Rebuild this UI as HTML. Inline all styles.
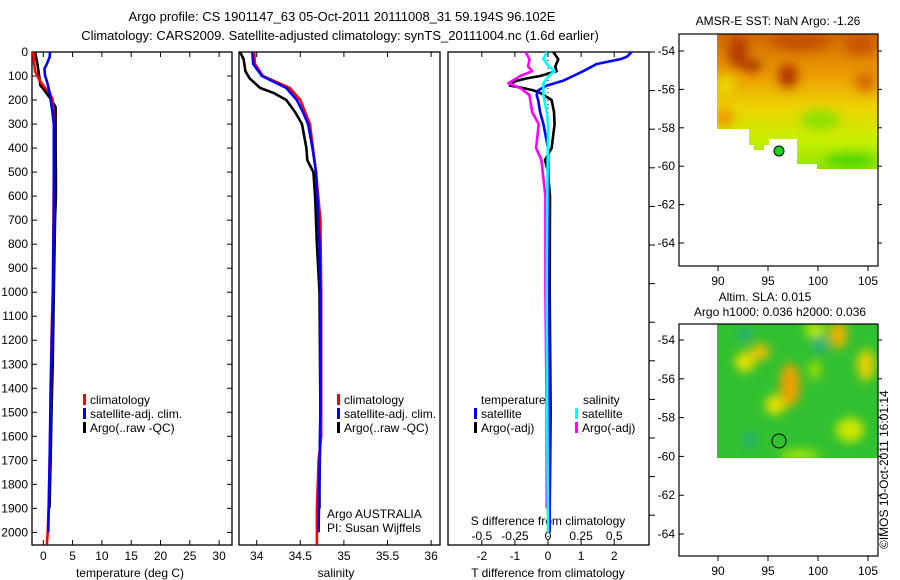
<!DOCTYPE html>
<html><head><meta charset="utf-8"><style>
body{margin:0;background:#fff;}
svg{display:block;font-family:"Liberation Sans",sans-serif;}
</style></head><body>
<svg id="fig" width="900" height="580" viewBox="0 0 900 580" xmlns="http://www.w3.org/2000/svg">
<defs>
<filter id="bl" x="-50%" y="-50%" width="200%" height="200%"><feGaussianBlur stdDeviation="5"/></filter>
<clipPath id="c1"><polygon points="717,34 878,34 878,169 817,169 817,164 797,164 797,139 769,139 769,145 764,145 764,150 754,150 754,145 749,145 749,129 717,129"/></clipPath>
<clipPath id="c2"><rect x="717" y="324" width="161" height="134"/></clipPath>
<linearGradient id="sstg" x1="0" y1="34" x2="0" y2="169" gradientUnits="userSpaceOnUse">
<stop offset="0" stop-color="#d06800"/><stop offset="0.3" stop-color="#ec9c00"/><stop offset="0.55" stop-color="#ecd400"/><stop offset="0.78" stop-color="#c8f000"/><stop offset="1" stop-color="#90e400"/></linearGradient>
</defs>
<g font-size="13" text-anchor="middle">
<text x="342" y="21">Argo profile: CS 1901147_63 05-Oct-2011 20111008_31 59.194S 96.102E</text>
<text x="340" y="40">Climatology: CARS2009. Satellite-adjusted climatology: synTS_20111004.nc (1.6d earlier)</text>
</g>
<g id="axes"></g>
<g id="series"></g>
<g>
<text x="778" y="25" font-size="12" text-anchor="middle">AMSR-E SST: NaN Argo: -1.26</text>
<g clip-path="url(#c1)">
<rect x="717" y="34" width="161" height="135" fill="url(#sstg)"/>
<g filter="url(#bl)" opacity="0.85">
<ellipse cx="738" cy="52" rx="10" ry="16" fill="#b03000"/>
<ellipse cx="752" cy="66" rx="10" ry="6" fill="#a02800"/>
<ellipse cx="788" cy="76" rx="10" ry="12" fill="#a82800"/>
<ellipse cx="800" cy="42" rx="30" ry="8" fill="#c04800"/>
<ellipse cx="860" cy="45" rx="15" ry="10" fill="#c85000"/>
<ellipse cx="865" cy="82" rx="10" ry="10" fill="#d06000"/>
<ellipse cx="725" cy="85" rx="10" ry="10" fill="#e8e000"/>
<ellipse cx="724" cy="118" rx="10" ry="10" fill="#f09000"/>
<ellipse cx="820" cy="120" rx="20" ry="10" fill="#80e000"/>
<ellipse cx="850" cy="160" rx="25" ry="6" fill="#30d000"/>
</g></g>
<circle cx="779" cy="151" r="5" fill="#20d020" stroke="#000" stroke-width="1"/>
</g>
<g>
<text x="765" y="301" font-size="12" text-anchor="middle">Altim. SLA: 0.015</text>
<g clip-path="url(#c2)">
<rect x="717" y="324" width="161" height="134" fill="#30c030"/>
<g filter="url(#bl)">
<ellipse cx="745" cy="362" rx="10" ry="10" fill="#e8e000"/>
<ellipse cx="760" cy="352" rx="10" ry="8" fill="#f0c000"/>
<ellipse cx="790" cy="385" rx="10" ry="22" fill="#f0a000"/>
<ellipse cx="775" cy="405" rx="10" ry="10" fill="#e8e000"/>
<ellipse cx="838" cy="335" rx="9" ry="14" fill="#f0b000"/>
<ellipse cx="866" cy="365" rx="9" ry="16" fill="#e8d000"/>
<ellipse cx="850" cy="430" rx="14" ry="12" fill="#d0e800"/>
<ellipse cx="815" cy="330" rx="10" ry="8" fill="#c0e800"/>
<ellipse cx="815" cy="370" rx="6" ry="10" fill="#a0e000"/>
<ellipse cx="745" cy="335" rx="6" ry="6" fill="#20a890"/>
<ellipse cx="750" cy="440" rx="5" ry="8" fill="#20a890"/>
<ellipse cx="820" cy="345" rx="6" ry="8" fill="#20a890"/>
<ellipse cx="800" cy="455" rx="20" ry="5" fill="#b0e800"/>
</g></g>
<circle cx="779" cy="441" r="7" fill="none" stroke="#000" stroke-width="1"/>
</g>
<text transform="translate(888,549) rotate(-90)" font-size="12">©IMOS 10-Oct-2011 16:01:14</text>
</svg>
<script>
// ---- data ----
var depthTicks=[0,100,200,300,400,500,600,700,800,900,1000,1100,1200,1300,1400,1500,1600,1700,1800,1900,2000];
var tempTicks=[0,5,10,15,20,25,30];
var salTicks=[34,34.5,35,35.5,36];
var salTickLabels=["34","34.5","35","35.5","36"];
var tdTicks=[-2,-1,0,1,2];
var sdTicks=[-0.5,-0.25,0,0.25,0.5];
var sdTickLabels=["-0.5","-0.25","0","0.25","0.5"];
var latTicks=[-54,-56,-58,-60,-62,-64];
var lonTicks=[90,95,100,105];

var tClimDepth=[0,40,80,110,130,150,170,200,300,500,800,1000,1200,1500,1700,1900,2000,2050];
var tClim=[-1.7,-1.6,-1.4,-0.8,-0.3,0.3,1.1,1.6,1.8,1.8,1.7,1.6,1.4,1.25,1.1,0.9,0.75,0.6];
var tSatDepth=[0,20,50,70,100,120,150,180,250,300,500,700,800,1000,1100,1400,1600,1800,2000];
var tSat=[1.15,1.1,0.6,0.2,0.3,0.6,0.9,1.15,1.55,1.8,1.8,1.8,1.7,1.7,1.55,1.25,1.15,1.0,0.85];
var tArgoDepth=[0,50,100,140,150,180,200,230,300,400,500,600,700,1000,1300,1500,1700,1900];
var tArgo=[-1.4,-1.0,-0.7,-0.5,-0.1,0.8,1.4,2.1,2.1,2.1,2.15,2.15,2.0,1.8,1.6,1.4,1.25,1.05];

var sClimDepth=[0,50,100,150,200,300,500,700,1000,1600,1700,1900,2050];
var sClim=[33.97,33.98,34.07,34.38,34.5,34.61,34.68,34.73,34.74,34.74,34.71,34.69,34.69];
var sSatDepth=[0,50,100,150,200,250,300,400,500,600,800,1000,1500,2000];
var sSat=[33.95,33.96,34.06,34.34,34.46,34.53,34.59,34.64,34.68,34.695,34.72,34.73,34.73,34.71];
var sArgoDepth=[0,30,80,110,150,170,200,250,300,400,450,500,600,800,1000,1500,1800,1900];
var sArgo=[33.81,33.85,33.87,33.92,34.04,34.19,34.34,34.44,34.52,34.57,34.58,34.65,34.67,34.69,34.72,34.73,34.72,34.72];

var tdSatDepth=[0,20,30,50,80,100,120,140,160,180,200,250,300,400,600,1000,1500,2000];
var tdSat=[2.53,2.38,2.18,1.47,1.06,0.76,0.45,-0.04,-0.3,-0.34,-0.3,-0.24,-0.14,0,0.02,0.03,0.05,0.05];
var tdArgoDepth=[0,30,60,80,100,110,120,130,140,150,160,170,200,250,300,400,450,500,600,1000,1500,1900];
var tdArgo=[0.16,0.31,0.22,0.26,-0.24,-0.64,-0.95,-1.1,-1.15,-0.75,-0.44,-0.24,0.11,0.18,0.2,0.11,-0.09,0,0.06,0.05,0.08,0.05];
var sdSatDepth=[0,30,60,80,100,130,180,250,300,600,1000,1500,2000];
var sdSat=[-0.01,-0.035,0.005,0.05,0.005,-0.035,-0.035,-0.01,0,-0.005,-0.01,-0.005,0];
var sdArgoDepth=[0,30,60,80,100,120,130,150,180,250,300,400,450,500,600,1000,1500,1900];
var sdArgo=[-0.17,-0.14,-0.15,-0.12,-0.21,-0.27,-0.3,-0.21,-0.14,-0.12,-0.07,-0.09,-0.05,-0.04,-0.02,-0.02,-0.01,-0.01];

// ---- scales ----
var NS="http://www.w3.org/2000/svg";
var TOP=52, BOT=545;
function yD(d){return TOP+d*0.2402;}
function xT(t){return 43.3+t*5.86;}
function xS(s){return 256.7+(s-34)*87.2;}
function xTd(v){return 548+v*33.1;}
function xSd(v){return 548+v*132.4;}
function yLat1(l){return 51+(-54-l)*19.2;}
function yLat2(l){return 340+(-54-l)*19.4;}
function xLon(l){return 718+(l-90)*10;}
var axes=document.getElementById('axes'), ser=document.getElementById('series');
function mk(tag,attrs,parent){var e=document.createElementNS(NS,tag);for(var k in attrs)e.setAttribute(k,attrs[k]);parent.appendChild(e);return e;}
function txt(x,y,s,anchor,parent,size){var t=mk('text',{x:x,y:y,'text-anchor':anchor||'middle','font-size':size||12},parent);t.textContent=s;return t;}

var panels=[[32,232,'temperature-panel'],[239,440,'salinity-panel'],[448,649,'difference-panel']];
panels.forEach(function(p){
  var r=mk('rect',{x:p[0],y:TOP,width:p[1]-p[0],height:BOT-TOP,fill:'none',stroke:'#000','stroke-width':1.3},axes);
  
  
});
depthTicks.forEach(function(d){
  var y=yD(d);
  mk('line',{x1:32,x2:37,y1:y,y2:y,stroke:'#000'},axes);
  mk('line',{x1:227,x2:232,y1:y,y2:y,stroke:'#000'},axes);
  var t=txt(28,y+4,String(d),'end',axes);
  
  
});
for(var y=52;y<545;y+=38.6){mk('line',{x1:649,x2:655,y1:y,y2:y,stroke:'#000'},axes);}
tempTicks.forEach(function(v){
  var x=xT(v);
  mk('line',{x1:x,x2:x,y1:BOT,y2:BOT-5,stroke:'#000'},axes);
  mk('line',{x1:x,x2:x,y1:TOP,y2:TOP+5,stroke:'#000'},axes);
  var t=txt(x,560,String(v),'middle',axes);
  
  
});
salTicks.forEach(function(v,i){
  var x=xS(v);
  mk('line',{x1:x,x2:x,y1:BOT,y2:BOT-5,stroke:'#000'},axes);
  mk('line',{x1:x,x2:x,y1:TOP,y2:TOP+5,stroke:'#000'},axes);
  var t=txt(x,560,salTickLabels[i],'middle',axes);
  
  
});
tdTicks.forEach(function(v){
  var x=xTd(v);
  mk('line',{x1:x,x2:x,y1:BOT,y2:BOT-5,stroke:'#000'},axes);
  mk('line',{x1:x,x2:x,y1:TOP,y2:TOP+5,stroke:'#000'},axes);
  var t=txt(x,560,String(v),'middle',axes);
  
  
});
sdTicks.forEach(function(v,i){
  var t=txt(xSd(v),540,sdTickLabels[i],'middle',axes);
  
  
});
var at;
at=txt(130,577,'temperature (deg C)','middle',axes);


at=txt(336,577,'salinity','middle',axes);


at=txt(548,577,'T difference from climatology','middle',axes);


at=txt(548,525,'S difference from climatology','middle',axes);


at=txt(327,518,'Argo AUSTRALIA','start',axes);


at=txt(327,532,'PI: Susan Wijffels','start',axes);


mk('line',{x1:548,x2:548,y1:TOP,y2:BOT,stroke:'#000','stroke-dasharray':'1,3','stroke-width':1},axes);

function legend(x,y,color,label,name){
  var g=mk('g',{},axes);
  
  
  mk('rect',{x:x,y:y-10,width:3,height:11,fill:color},g);
  txt(x+7,y,label,'start',g);
}
var leg1=[['red','climatology'],['blue','satellite-adj. clim.'],['black','Argo(..raw -QC)']];
leg1.forEach(function(l,i){legend(83,404+i*14,l[0],l[1],'legend-entry');legend(337,404+i*14,l[0],l[1],'legend-entry');});
txt(481,404,'temperature','start',axes);
txt(583,404,'salinity','start',axes);
legend(474,418,'blue','satellite','legend-entry');
legend(474,432,'black','Argo(-adj)','legend-entry');
legend(575,418,'cyan','satellite','legend-entry');
legend(575,432,'magenta','Argo(-adj)','legend-entry');

function line(xs,ds,fx,color,name){
  var pts=xs.map(function(v,i){return fx(v).toFixed(1)+','+yD(ds[i]).toFixed(1);}).join(' ');
  var p=mk('polyline',{points:pts,fill:'none',stroke:color,'stroke-width':2.6,'stroke-linejoin':'round'},ser);
  
  
}
line(tArgo,tArgoDepth,xT,'#000','temp-argo-line');
line(tClim,tClimDepth,xT,'#f00','temp-climatology-line');
line(tSat,tSatDepth,xT,'#00f','temp-satellite-line');
line(sArgo,sArgoDepth,xS,'#000','sal-argo-line');
line(sClim,sClimDepth,xS,'#f00','sal-climatology-line');
line(sSat,sSatDepth,xS,'#00f','sal-satellite-line');
line(tdArgo,tdArgoDepth,xTd,'#000','tdiff-argo-line');
line(tdSat,tdSatDepth,xTd,'#00f','tdiff-satellite-line');
line(sdArgo,sdArgoDepth,xSd,'#f0f','sdiff-argo-line');
line(sdSat,sdSatDepth,xSd,'#0ff','sdiff-satellite-line');

var fig=document.getElementById('fig');
[[34,266,yLat1,'sst-map-axes'],[324,556,yLat2,'sla-map-axes']].forEach(function(m){
  var r=mk('rect',{x:679,y:m[0],width:199,height:m[1]-m[0],fill:'none',stroke:'#000','stroke-width':1.2},fig);
  
  
  latTicks.forEach(function(l){
    var y=m[2](l);
    mk('line',{x1:679,x2:684,y1:y,y2:y,stroke:'#000'},fig);
    mk('line',{x1:878,x2:882,y1:y,y2:y,stroke:'#000'},fig);
    var t=txt(675,y+4,String(l),'end',fig);
    
    
  });
  lonTicks.forEach(function(l){
    var x=xLon(l);
    mk('line',{x1:x,x2:x,y1:m[1],y2:m[1]+5,stroke:'#000'},fig);
    var t=txt(x,m[1]+19,String(l),'middle',fig);
    
    
  });
});
var h=txt(780,316,'Argo h1000: 0.036 h2000: 0.036','middle',fig);


</script>
</body></html>
